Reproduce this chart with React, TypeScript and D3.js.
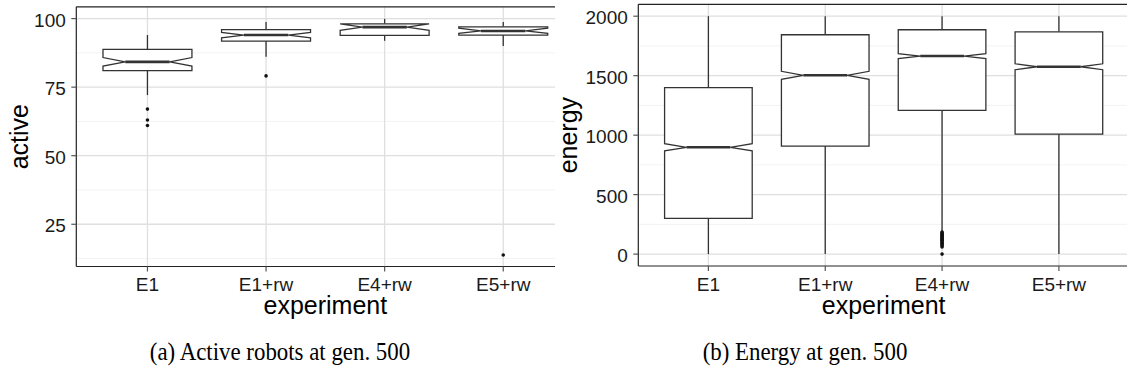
import React from 'react';
import * as d3 from 'd3';

const categories = ['E1', 'E1+rw', 'E4+rw', 'E5+rw'];

// Panel (a): active robots
const activeLowerWhisker = [72.1, 86.1, 91.9, 90.0];
const activeQ1 = [81.0, 91.8, 93.9, 94.0];
const activeNotchLow = [82.7, 93.0, 95.7, 94.6];
const activeMedian = [84.2, 94.0, 96.9, 95.5];
const activeNotchHigh = [85.8, 95.0, 98.1, 96.5];
const activeQ3 = [88.8, 96.0, 98.1, 97.0];
const activeUpperWhisker = [94.0, 98.8, 99.9, 98.8];
const activeOutliers = [[67.0, 63.0, 61.0], [79.1], [], [13.8]];
const activeTicks = [25, 50, 75, 100];
const activeMinor = [12.5, 37.5, 62.5, 87.5];

// Panel (b): energy
const energyLowerWhisker = [0, 0, 195, 0];
const energyQ1 = [300, 908, 1208, 1009];
const energyNotchLow = [868, 1470, 1644, 1550];
const energyMedian = [898, 1503, 1665, 1575];
const energyNotchHigh = [928, 1537, 1686, 1600];
const energyQ3 = [1400, 1844, 1886, 1869];
const energyUpperWhisker = [2000, 2000, 2000, 2000];
const energyOutliers = [[], [], [185, 178, 170, 163, 155, 148, 140, 132, 125, 117, 110, 100, 90, 80, 70, 60, 0], []];
const energyTicks = [0, 500, 1000, 1500, 2000];
const energyMinor = [250, 750, 1250, 1750];

const captionA = '(a) Active robots at gen. 500';
const captionB = '(b) Energy at gen. 500';

const SANS = '"Liberation Sans", Arial, Helvetica, sans-serif';
const SERIF = '"Liberation Serif", "Times New Roman", Times, serif';

type PanelProps = {
  x0: number; x1: number; y0: number; y1: number;
  domain: [number, number];
  ticks: number[]; minor: number[];
  lw: number[]; q1: number[]; nl: number[]; med: number[]; nh: number[]; q3: number[]; uw: number[];
  outliers: number[][];
  title: string; titleX: number;
  clipRight?: number; id: string;
};

function Panel(p: PanelProps) {
  const x = d3.scalePoint<string>().domain(categories).range([p.x0, p.x1]).padding(0.6);
  const y = d3.scaleLinear().domain(p.domain).range([p.y1, p.y0]);
  const step = x.step();
  const bw = step * 0.75;
  const indent = bw * 0.25;
  const boxStroke = '#333333';
  const cx = (p.x0 + p.x1) / 2;
  const cy = (p.y0 + p.y1) / 2;
  const clipR = p.clipRight ?? p.x1 + 2;
  return (
    <g>
      <defs>
        <clipPath id={p.id}>
          <rect x={0} y={0} width={clipR} height={400} />
        </clipPath>
      </defs>
      <g clipPath={`url(#${p.id})`}>
        {p.minor.map((v) => (
          <line key={'mi' + v} x1={p.x0} x2={p.x1} y1={y(v)} y2={y(v)} stroke="#f0f0f0" strokeWidth={0.8} />
        ))}
        {p.ticks.map((v) => (
          <line key={'ma' + v} x1={p.x0} x2={p.x1} y1={y(v)} y2={y(v)} stroke="#dfdfdf" strokeWidth={1.3} />
        ))}
        {categories.map((c) => (
          <line key={'vg' + c} x1={x(c)} x2={x(c)} y1={p.y0} y2={p.y1} stroke="#dfdfdf" strokeWidth={1.3} />
        ))}
        {categories.map((c, i) => {
          const xc = x(c) as number;
          const xmin = xc - bw / 2;
          const xmax = xc + bw / 2;
          const pts: [number, number][] = [
            [xmin, y(p.q3[i])],
            [xmin, y(p.nh[i])],
            [xmin + indent, y(p.med[i])],
            [xmin, y(p.nl[i])],
            [xmin, y(p.q1[i])],
            [xmax, y(p.q1[i])],
            [xmax, y(p.nl[i])],
            [xmax - indent, y(p.med[i])],
            [xmax, y(p.nh[i])],
            [xmax, y(p.q3[i])],
          ];
          const path = d3.line()(pts) + 'Z';
          return (
            <g key={'box' + c}>
              <line x1={xc} x2={xc} y1={y(p.q3[i])} y2={y(p.uw[i])} stroke={boxStroke} strokeWidth={1.3} />
              <line x1={xc} x2={xc} y1={y(p.q1[i])} y2={y(p.lw[i])} stroke={boxStroke} strokeWidth={1.3} />
              <path d={path} fill="#ffffff" stroke={boxStroke} strokeWidth={1.3} strokeLinejoin="miter" />
              <line x1={xmin + indent} x2={xmax - indent} y1={y(p.med[i])} y2={y(p.med[i])} stroke={boxStroke} strokeWidth={2.6} />
              {p.outliers[i].map((v, j) => (
                <circle key={j} cx={xc} cy={y(v)} r={1.8} fill="#111111" />
              ))}
            </g>
          );
        })}
        <line x1={p.x0} x2={p.x1 + 2} y1={p.y0} y2={p.y0} stroke="#222222" strokeWidth={1.2} />
        <line x1={p.x0} x2={p.x1 + 2} y1={p.y1} y2={p.y1} stroke="#222222" strokeWidth={1.2} />
        <line x1={p.x0} x2={p.x0} y1={p.y0} y2={p.y1} stroke="#222222" strokeWidth={1.2} />
        {p.ticks.map((v) => (
          <g key={'yt' + v}>
            <line x1={p.x0 - 5} x2={p.x0} y1={y(v)} y2={y(v)} stroke="#555555" strokeWidth={1.2} />
            <text x={p.x0 - 10.5} y={y(v)} dy="0.42em" textAnchor="end" fontFamily={SANS} fontSize={19} fill="#1a1a1a">
              {v}
            </text>
          </g>
        ))}
        {categories.map((c) => (
          <g key={'xt' + c}>
            <line x1={x(c)} x2={x(c)} y1={p.y1} y2={p.y1 + 5} stroke="#555555" strokeWidth={1.2} />
            <text x={x(c)} y={290.7} textAnchor="middle" fontFamily={SANS} fontSize={19} fill="#1a1a1a">
              {c}
            </text>
          </g>
        ))}
        <text x={cx} y={314} textAnchor="middle" fontFamily={SANS} fontSize={25} fill="#000000">
          experiment
        </text>
        <text transform={`translate(${p.titleX},${cy}) rotate(-90)`} textAnchor="middle" fontFamily={SANS} fontSize={25} fill="#000000">
          {p.title}
        </text>
      </g>
    </g>
  );
}

export default function App() {
  return (
    <svg width={1127} height={382} style={{ position: 'absolute', left: 0, top: 0, background: '#ffffff' }}>
      <rect x={0} y={0} width={1127} height={382} fill="#ffffff" />
      <Panel
        id="clipA"
        x0={76.3} x1={574.4} y0={6.8} y1={266.5}
        domain={[9.6, 104.3]}
        ticks={activeTicks} minor={activeMinor}
        lw={activeLowerWhisker} q1={activeQ1} nl={activeNotchLow} med={activeMedian}
        nh={activeNotchHigh} q3={activeQ3} uw={activeUpperWhisker} outliers={activeOutliers}
        title="active" titleX={28.3}
        clipRight={555}
      />
      <rect x={555} y={0} width={572} height={382} fill="#ffffff" />
      <Panel
        id="clipB"
        x0={638.3} x1={1129} y0={4.3} y1={266}
        domain={[-100, 2100]}
        ticks={energyTicks} minor={energyMinor}
        lw={energyLowerWhisker} q1={energyQ1} nl={energyNotchLow} med={energyMedian}
        nh={energyNotchHigh} q3={energyQ3} uw={energyUpperWhisker} outliers={energyOutliers}
        title="energy" titleX={577}
        clipRight={1127}
      />
      <text transform="translate(280,360) scale(0.88,1)" textAnchor="middle" fontFamily={SERIF} fontSize={26} fill="#000000">
        {captionA}
      </text>
      <text transform="translate(805,360) scale(0.88,1)" textAnchor="middle" fontFamily={SERIF} fontSize={26} fill="#000000">
        {captionB}
      </text>
    </svg>
  );
}
